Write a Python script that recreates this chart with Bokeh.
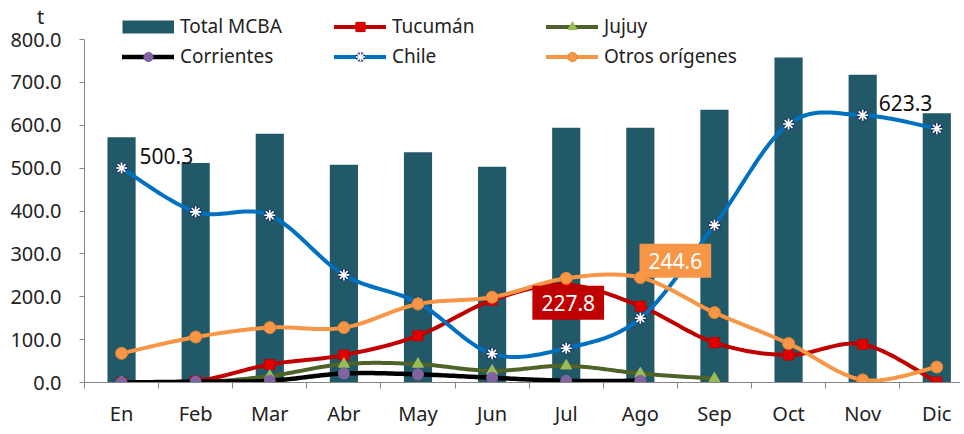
import numpy as np
from bokeh.plotting import figure
from bokeh.models import (Range1d, FixedTicker, Legend, LegendItem, Label,
                          NumeralTickFormatter)
from bokeh.embed import file_html
from bokeh.resources import INLINE

# ---------------- data ----------------
months = ["En", "Feb", "Mar", "Abr", "May", "Jun", "Jul", "Ago", "Sep", "Oct", "Nov", "Dic"]
total_mcba = [572, 512, 580, 508, 537, 503, 594, 594, 636, 758, 718, 628]
tucuman = [0, 3, 42, 64, 109, 192, 227.8, 178, 93, 64, 89, 1]
jujuy = [0, 0, 15, 43, 43, 27, 39, 21, 9]
corrientes = [0, 2, 4, 21, 19, 11, 4, 4]
chile = [500.3, 398, 390, 251, 186, 67, 80, 150, 367, 603, 623.3, 592]
otros = [68, 106, 128, 128, 183, 199, 243, 244.6, 163, 91, 6, 36]
y_ticks = [0, 100, 200, 300, 400, 500, 600, 700, 800]
unit_label = "t"

FONT = "Noto Sans"
GRAY = "#868686"
BAR = "#215968"


def smooth(ys, n=24):
    """Excel-like smoothed line (Catmull-Rom Bezier) through the points."""
    xs = np.arange(len(ys), dtype=float)
    ys = np.asarray(ys, dtype=float)
    P = np.column_stack([xs, ys])
    out = []
    m = len(P)
    for i in range(m - 1):
        p0 = P[max(i - 1, 0)]
        p1 = P[i]
        p2 = P[i + 1]
        p3 = P[min(i + 2, m - 1)]
        c1 = p1 + (p2 - p0) / 6.0
        c2 = p2 - (p3 - p1) / 6.0
        t = np.linspace(0, 1, n)[:, None]
        seg = ((1 - t) ** 3) * p1 + 3 * ((1 - t) ** 2) * t * c1 + 3 * (1 - t) * t ** 2 * c2 + t ** 3 * p2
        out.append(seg if i == 0 else seg[1:])
    arr = np.vstack(out)
    return arr[:, 0], arr[:, 1]


p = figure(width=960, height=434, output_backend="svg", toolbar_location=None,
           x_range=Range1d(-0.5, 11.32), y_range=Range1d(0, 891),
           min_border_left=84, min_border_right=0, min_border_top=0, min_border_bottom=52)
p.outline_line_color = None
p.xgrid.visible = False
p.ygrid.visible = False
p.background_fill_color = "white"

xi = list(range(len(months)))

bars = p.vbar(x=xi, top=total_mcba, width=0.38, fill_color=BAR, line_color=None)
# legend key for the bars (a one-point line draws nothing in the plot itself)
bar_key = p.line(x=xi[:1], y=total_mcba[:1], line_color=BAR, line_width=13, line_cap="butt")


def series(vals, line_color, lw, marker, m_fill, m_line, m_size):
    sx, sy = smooth(vals)
    lr = p.line(sx, sy, line_color=line_color, line_width=lw, line_cap="round", line_join="round")
    sr = p.scatter(list(range(len(vals))), vals, marker=marker, size=m_size,
                   fill_color=m_fill, line_color=m_line, line_width=1)
    return [lr, sr]


r_tuc = series(tucuman, "#C00000", 4, "square", "#E00000", "#C00000", 10)
r_juj = series(jujuy, "#4F6228", 4, "triangle", "#9BBB59", "#9BBB59", 11)
r_cor = series(corrientes, "#000000", 4.5, "circle", "#8064A2", "#8064A2", 11)

sx, sy = smooth(chile)
ch_line = p.line(sx, sy, line_color="#0070C0", line_width=4, line_cap="round", line_join="round")
ch_m1 = p.scatter(xi, chile, marker="asterisk", size=12, line_color="#1F3864", line_width=4)
ch_m2 = p.scatter(xi, chile, marker="asterisk", size=11, line_color="white", line_width=1.6)
r_chi = [ch_line, ch_m1, ch_m2]

r_otr = series(otros, "#F79646", 4, "circle", "#F79646", "#E5842F", 12)

# axes
p.yaxis.ticker = FixedTicker(ticks=y_ticks)
p.yaxis.bounds = (0, 800)
p.yaxis.formatter = NumeralTickFormatter(format="0.0")
p.yaxis.minor_tick_line_color = None
p.yaxis.major_tick_in = 0
p.yaxis.major_tick_out = 5
p.yaxis.major_tick_line_color = GRAY
p.yaxis.axis_line_color = GRAY
p.yaxis.major_label_standoff = 18
p.yaxis.major_label_text_font = FONT
p.yaxis.major_label_text_font_size = "20px"
p.yaxis.major_label_text_color = "#222222"

p.xaxis.ticker = FixedTicker(ticks=xi, minor_ticks=[i - 0.5 for i in range(len(months) + 1)])
p.xaxis.major_label_overrides = {i: m for i, m in enumerate(months)}
p.xaxis.major_tick_line_color = None
p.xaxis.minor_tick_line_color = GRAY
p.xaxis.minor_tick_in = 0
p.xaxis.minor_tick_out = 6
p.xaxis.axis_line_color = GRAY
p.xaxis.major_label_standoff = 11
p.xaxis.major_label_text_font = FONT
p.xaxis.major_label_text_font_size = "20px"
p.xaxis.major_label_text_color = "#222222"

# legend
items = [
    LegendItem(label="Total MCBA", renderers=[bar_key]),
    LegendItem(label="Tucumán", renderers=r_tuc),
    LegendItem(label="Jujuy", renderers=r_juj),
    LegendItem(label="Corrientes", renderers=r_cor),
    LegendItem(label="Chile", renderers=r_chi),
    LegendItem(label="Otros orígenes", renderers=r_otr),
]
legend = Legend(items=items, location=(38, 313), orientation="horizontal", ncols=3,
                glyph_width=52, glyph_height=23, label_height=23, label_width=150,
                label_standoff=6, spacing=4, padding=0, margin=0,
                label_text_font=FONT, label_text_font_size="19px", label_text_color="#222222",
                background_fill_alpha=0, border_line_alpha=0)
p.add_layout(legend, "center")

# data labels
lab_style = dict(text_font=FONT, text_font_size="21px")
p.add_layout(Label(x=0, y=chile[0], text=f"{chile[0]:.1f}", x_offset=18, y_offset=12,
                   text_align="left", text_baseline="middle", text_color="#111111", **lab_style))
p.add_layout(Label(x=10, y=chile[10], text=f"{chile[10]:.1f}", x_offset=16, y_offset=12,
                   text_align="left", text_baseline="middle", text_color="#111111", **lab_style))
p.add_layout(Label(x=6, y=tucuman[6], text=f"{tucuman[6]:.1f}", x_offset=2, y_offset=-18,
                   text_align="center", text_baseline="middle", text_color="white",
                   background_fill_color="#C00000", padding=9, **lab_style))
p.add_layout(Label(x=7, y=otros[7], text=f"{otros[7]:.1f}", x_offset=35, y_offset=17,
                   text_align="center", text_baseline="middle", text_color="white",
                   background_fill_color="#F79646", padding=9, **lab_style))

# unit label, in the left side panel (screen units)
p.add_layout(Label(x=40, y=366, x_units="screen", y_units="screen", text=unit_label,
                   text_align="center", text_baseline="middle", text_font=FONT,
                   text_font_size="20px", text_color="#222222"), "left")

open("out.html", "w").write(file_html(p, INLINE))
